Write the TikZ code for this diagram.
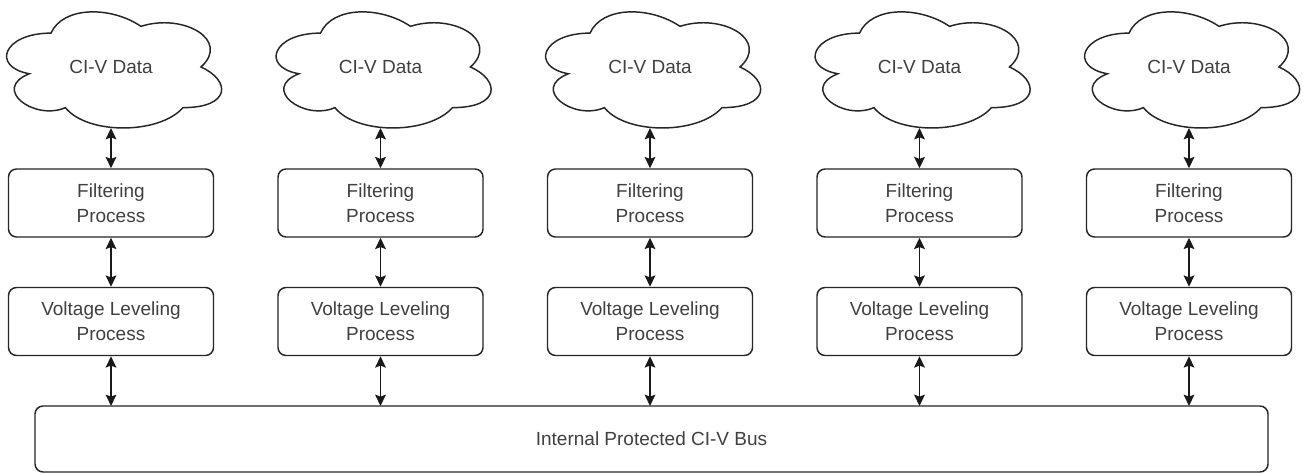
\documentclass[tikz,border=0pt]{standalone}
\usepackage{fontspec}
\setmainfont{Liberation Sans}
\usetikzlibrary{arrows.meta}
\tikzset{
  lbl/.style={font=\fontsize{14.25pt}{18.75pt}\selectfont, text=black!75, align=center, inner sep=0pt},
  procbox/.style={draw=black!85, line width=1.1pt, rounded corners=6pt, minimum width=153.75pt, minimum height=51pt, lbl},
  busbox/.style={draw=black!85, line width=1.1pt, rounded corners=6pt, minimum width=924.75pt, minimum height=49.5pt, lbl},
  cloudline/.style={draw=black!85, line width=1.1pt, fill=white},
  link/.style={line width=1.2pt, draw=black!90, {Stealth[length=8.5pt,width=8pt,inset=1.5pt]}-{Stealth[length=8.5pt,width=8pt,inset=1.5pt]}}
}
\begin{document}
\begin{tikzpicture}[x=0.75pt,y=-0.75pt]
\useasboundingbox[fill=white] (0,0) rectangle (1304,474);
\node[busbox] (bus) at (651.5,439) {Internal Protected CI-V Bus};
\foreach \i/\cx in {1/111,2/380.5,3/650,4/919.5,5/1189}{
  \begin{scope}[shift={(\cx,67)}, xscale=240, yscale=135.5]
    \path[cloudline] (-0.25,-0.25)
      .. controls (-0.45,-0.25) and (-0.5,0) .. (-0.34,0.05)
      .. controls (-0.5,0.16) and (-0.32,0.4) .. (-0.19,0.3)
      .. controls (-0.1,0.5) and (0.2,0.5) .. (0.3,0.3)
      .. controls (0.5,0.3) and (0.5,0.1) .. (0.375,0)
      .. controls (0.5,-0.2) and (0.3,-0.4) .. (0.125,-0.3)
      .. controls (0,-0.45) and (-0.2,-0.45) .. (-0.25,-0.25) -- cycle;
  \end{scope}
  \node[lbl] (c\i) at (\cx,67) {CI-V Data};
  \coordinate (cb\i) at (\cx,128);
  \node[procbox] (f\i) at (\cx,203) {Filtering\\Process};
  \node[procbox] (v\i) at (\cx,321.5) {Voltage Leveling\\Process};
  \coordinate (bt\i) at (\cx,406);
  \draw[link] (cb\i) -- (f\i.north);
  \draw[link] (f\i.south) -- (v\i.north);
  \draw[link] (v\i.south) -- (bt\i);
}
\end{tikzpicture}
\end{document}
